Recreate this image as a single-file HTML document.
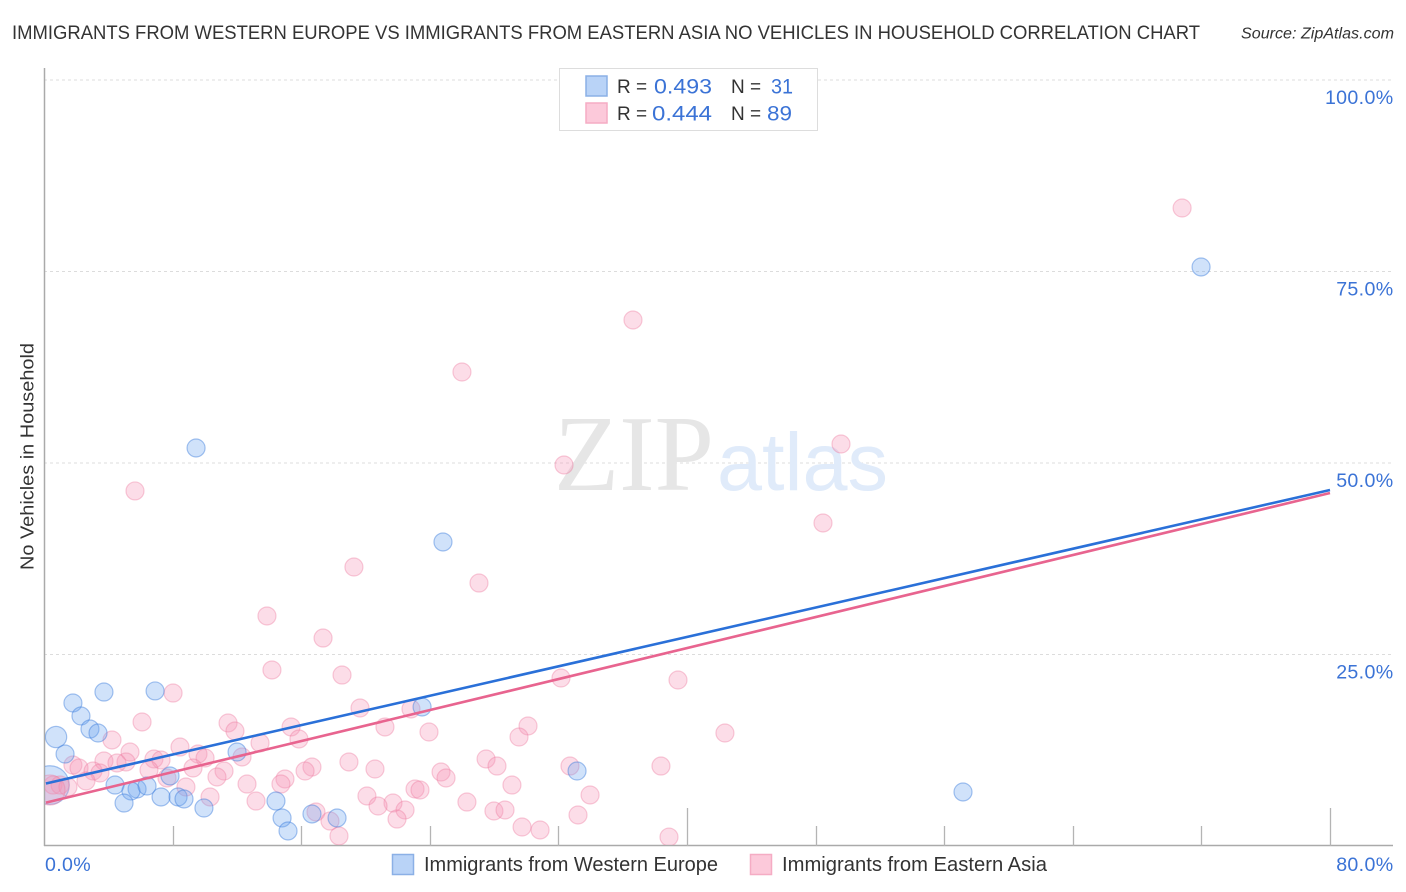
<!DOCTYPE html>
<html lang="en">
<head>
<meta charset="utf-8">
<title>Immigrants from Western Europe vs Immigrants from Eastern Asia No Vehicles in Household Correlation Chart</title>
<style>
html,body{margin:0;padding:0;background:#fff;}
body{width:1406px;height:892px;overflow:hidden;}
svg{display:block;font-family:"Liberation Sans",sans-serif;}
</style>
</head>
<body>
<svg id="chart" xmlns="http://www.w3.org/2000/svg" width="1406" height="892" viewBox="0 0 1406 892">
  <defs><clipPath id="plot-clip"><rect x="45" y="60" width="1350" height="785"/></clipPath></defs>
  <rect x="0" y="0" width="1406" height="892" fill="#ffffff"/>
  <text x="12" y="39" font-size="19.5" fill="#333333" textLength="1188" lengthAdjust="spacingAndGlyphs">IMMIGRANTS FROM WESTERN EUROPE VS IMMIGRANTS FROM EASTERN ASIA NO VEHICLES IN HOUSEHOLD CORRELATION CHART</text>
  <text x="1241" y="38.5" font-size="15.5" font-style="italic" fill="#333333" textLength="153" lengthAdjust="spacingAndGlyphs">Source: ZipAtlas.com</text>
  <g id="grid-layer"></g>
  <g>
    <text x="554" y="490" font-family="'Liberation Serif',serif" font-size="108" fill="#e6e6e6" textLength="160" lengthAdjust="spacingAndGlyphs">ZIP</text>
    <text x="717" y="490" font-size="82" fill="#e0ebfa" textLength="171" lengthAdjust="spacingAndGlyphs">atlas</text>
  </g>
  <g id="axis-layer"></g>
  <g id="points-western-large" clip-path="url(#plot-clip)"></g>
  <g id="points-eastern" clip-path="url(#plot-clip)"></g>
  <g id="points-western" clip-path="url(#plot-clip)"></g>
  <g id="trend-layer"></g>
  <text transform="translate(33.5,456.5) rotate(-90)" text-anchor="middle" font-size="18.5" fill="#333333" textLength="227" lengthAdjust="spacingAndGlyphs">No Vehicles in Household</text>
  <g>
    <rect x="559.5" y="68.5" width="258" height="62" fill="#ffffff" stroke="#dddddd" stroke-width="1"/>
    <rect x="586" y="76" width="21" height="20" fill="#b9d3f7" stroke="#8bb0e6" stroke-width="1.5"/>
    <rect x="586" y="103" width="21" height="20" fill="#fcc9da" stroke="#f5acc4" stroke-width="1.5"/>
    <text x="617" y="93" font-size="19" fill="#333333">R =</text>
    <text x="654" y="93.5" font-size="21" fill="#3b73d6" textLength="58" lengthAdjust="spacingAndGlyphs">0.493</text>
    <text x="731" y="93" font-size="19" fill="#333333">N =</text>
    <text x="771" y="93.5" font-size="21" fill="#3b73d6" textLength="22" lengthAdjust="spacingAndGlyphs">31</text>
    <text x="617" y="120" font-size="19" fill="#333333">R =</text>
    <text x="652" y="120.5" font-size="21" fill="#3b73d6" textLength="60" lengthAdjust="spacingAndGlyphs">0.444</text>
    <text x="731" y="120" font-size="19" fill="#333333">N =</text>
    <text x="767" y="120.5" font-size="21" fill="#3b73d6" textLength="25" lengthAdjust="spacingAndGlyphs">89</text>
  </g>
  <g>
    <rect x="392.5" y="854.5" width="21" height="20" fill="#b9d3f7" stroke="#8bb0e6" stroke-width="1.5"/>
    <text x="424" y="871" font-size="20" fill="#333333" textLength="294" lengthAdjust="spacingAndGlyphs">Immigrants from Western Europe</text>
    <rect x="750.5" y="854.5" width="21" height="20" fill="#fcc9da" stroke="#f5acc4" stroke-width="1.5"/>
    <text x="782" y="871" font-size="20" fill="#333333" textLength="265" lengthAdjust="spacingAndGlyphs">Immigrants from Eastern Asia</text>
  </g>
</svg>
<script>
const xTickValues = [0, 8, 16, 24, 32, 40, 48, 56, 64, 72, 80];
const xMajorTicks = [40, 80];
const xEndLabels = ["0.0%", "80.0%"];
const yTickValues = [25, 50, 75, 100];
const yTickLabels = ["25.0%", "50.0%", "75.0%", "100.0%"];

const westernX = [71.98, 9.46, 24.82, 23.52, 33.16, 57.17, 1.80, 2.30, 3.73, 6.91, 2.86, 3.36, 0.75, 1.31, 12.01, 4.42, 5.79, 5.41, 6.41, 7.84, 7.28, 4.98, 8.34, 8.71, 9.95, 14.43, 14.81, 15.18, 16.67, 18.23, 0.37];
const westernY = [75.59, 51.96, 39.69, 18.15, 9.79, 7.05, 18.67, 16.97, 20.10, 20.24, 15.27, 14.75, 14.23, 12.01, 12.27, 7.96, 7.44, 7.18, 7.83, 9.14, 6.40, 5.61, 6.40, 6.14, 4.96, 5.87, 3.66, 1.96, 4.18, 3.66, 7.96];
const westernWeight = [1, 1, 1, 1, 1, 1, 1, 1, 1, 1, 1, 1, 1.4, 1, 1, 1, 1, 1, 1, 1, 1, 1, 1, 1, 1, 1, 1, 1, 1, 1, 4.6];

const easternX = [70.80, 36.64, 26.00, 49.58, 32.35, 5.66, 48.46, 19.28, 27.06, 13.87, 17.36, 14.18, 18.54, 8.03, 39.44, 32.16, 19.66, 22.83, 6.10, 11.45, 15.37, 21.21, 30.11, 11.88, 23.95, 29.55, 42.36, 15.86, 4.23, 13.44, 8.46, 5.35, 9.58, 6.84, 7.28, 10.02, 12.32, 27.50, 18.97, 28.18, 32.72, 38.38, 1.80, 3.73, 2.18, 5.10, 4.54, 3.05, 3.48, 6.53, 9.27, 11.20, 16.67, 16.24, 20.59, 24.70, 25.01, 2.61, 7.65, 10.76, 12.63, 14.99, 14.74, 29.11, 23.08, 23.39, 8.83, 33.97, 10.33, 13.19, 20.09, 26.31, 21.71, 22.46, 20.78, 21.96, 27.99, 28.68, 33.22, 16.92, 17.79, 29.74, 30.86, 18.35, 38.88, 0.56, 1.00, 1.49, 0.37];
const easternY = [83.29, 68.67, 61.88, 52.48, 49.74, 46.35, 42.17, 36.42, 34.33, 30.03, 27.15, 22.98, 22.32, 19.97, 21.67, 21.93, 18.02, 17.89, 16.19, 16.06, 15.54, 15.54, 15.67, 15.01, 14.88, 14.23, 14.75, 13.97, 13.84, 13.45, 12.92, 12.27, 12.01, 11.36, 11.23, 11.49, 11.62, 11.36, 10.97, 10.44, 10.44, 10.44, 10.57, 11.10, 10.18, 10.97, 10.84, 9.79, 9.53, 9.92, 10.18, 9.79, 10.31, 9.79, 10.05, 9.66, 8.88, 8.49, 8.88, 9.01, 8.09, 8.75, 8.09, 7.96, 7.44, 7.31, 7.70, 6.66, 6.40, 5.87, 6.53, 5.74, 5.61, 4.70, 5.22, 3.52, 4.57, 4.70, 4.05, 4.44, 3.26, 2.48, 2.09, 1.31, 1.17, 7.96, 7.96, 7.70, 7.31];
const easternLargeIndex = 88;
const easternLargeWeight = 2.8;

const westernTrend = [8.1, 46.48];
const easternTrend = [5.6, 46.08];
const trendDomain = [0.12, 80];

const SVG_NS = 'http://www.w3.org/2000/svg';
const plot = { left: 44, right: 1330, top: 80, bottom: 846, xMax: 80, yMax: 100 };
function xScale(v) { return plot.left + (v / plot.xMax) * (plot.right - plot.left); }
function yScale(v) { return plot.bottom - (v / plot.yMax) * (plot.bottom - plot.top); }
function radius(w) { return 9 * Math.sqrt(w); }
function make(tag, attrs, parent) {
  const el = document.createElementNS(SVG_NS, tag);
  Object.keys(attrs).forEach(function (k) { el.setAttribute(k, attrs[k]); });
  parent.appendChild(el);
  return el;
}

const gridLayer = document.getElementById('grid-layer');
const axisLayer = document.getElementById('axis-layer');
const westernLayer = document.getElementById('points-western');
const westernLargeLayer = document.getElementById('points-western-large');
const easternLayer = document.getElementById('points-eastern');
const trendLayer = document.getElementById('trend-layer');

yTickValues.forEach(function (v, i) {
  const y = yScale(v);
  const line = make('line', { x1: plot.left, x2: 1393, y1: y, y2: y, stroke: '#dcdcdc', 'stroke-width': 1, 'stroke-dasharray': '3 3' }, gridLayer);
  
  
  const label = make('text', { x: 1393.5, y: y + 24, 'text-anchor': 'end', 'font-size': 19.6, 'letter-spacing': 0.35, fill: '#3b73d6' }, axisLayer);
  
  
  label.textContent = yTickLabels[i];
});

const yAxis = make('line', { x1: plot.left + 0.5, x2: plot.left + 0.5, y1: 68, y2: plot.bottom, stroke: '#aaaaaa', 'stroke-width': 1.5 }, axisLayer);


const xAxis = make('line', { x1: plot.left, x2: 1393, y1: plot.bottom - 0.5, y2: plot.bottom - 0.5, stroke: '#aaaaaa', 'stroke-width': 1.5 }, axisLayer);



xTickValues.slice(1).forEach(function (v) {
  const x = Math.round(xScale(v)) + 0.5;
  const top = xMajorTicks.indexOf(v) >= 0 ? 808 : 826;
  const tick = make('line', { x1: x, x2: x, y1: top, y2: plot.bottom, stroke: '#b4b4b4', 'stroke-width': 1.3 }, axisLayer);
  
  
});

const xLabelStart = make('text', { x: plot.left + 1, y: 871, 'font-size': 19.6, 'letter-spacing': 0.35, fill: '#3b73d6' }, axisLayer);


xLabelStart.textContent = xEndLabels[0];
const xLabelEnd = make('text', { x: 1393.5, y: 871, 'text-anchor': 'end', 'font-size': 19.6, 'letter-spacing': 0.35, fill: '#3b73d6' }, axisLayer);


xLabelEnd.textContent = xEndLabels[1];

easternX.forEach(function (v, i) {
  const w = i === easternLargeIndex ? easternLargeWeight : 1;
  const dot = make('circle', { cx: xScale(v), cy: yScale(easternY[i]), r: radius(w), fill: 'rgba(247,150,182,0.32)', stroke: 'rgba(236,120,158,0.38)', 'stroke-width': 1.2 }, easternLayer);
  
  
});

westernX.forEach(function (v, i) {
  const parentLayer = westernWeight[i] > 2 ? westernLargeLayer : westernLayer;
  const dot = make('circle', { cx: xScale(v), cy: yScale(westernY[i]), r: radius(westernWeight[i]), fill: 'rgba(110,165,240,0.32)', stroke: 'rgba(60,125,220,0.45)', 'stroke-width': 1.2 }, parentLayer);
  
  
});

function trendY(trend, x) {
  return trend[0] + (trend[1] - trend[0]) * (x / plot.xMax);
}
const easternLine = make('line', { x1: xScale(trendDomain[0]), x2: xScale(trendDomain[1]), y1: yScale(trendY(easternTrend, trendDomain[0])), y2: yScale(trendY(easternTrend, trendDomain[1])), stroke: '#e8648f', 'stroke-width': 2.6 }, trendLayer);


const westernLine = make('line', { x1: xScale(trendDomain[0]), x2: xScale(trendDomain[1]), y1: yScale(trendY(westernTrend, trendDomain[0])), y2: yScale(trendY(westernTrend, trendDomain[1])), stroke: '#2a70d8', 'stroke-width': 2.6 }, trendLayer);


</script>
</body>
</html>
